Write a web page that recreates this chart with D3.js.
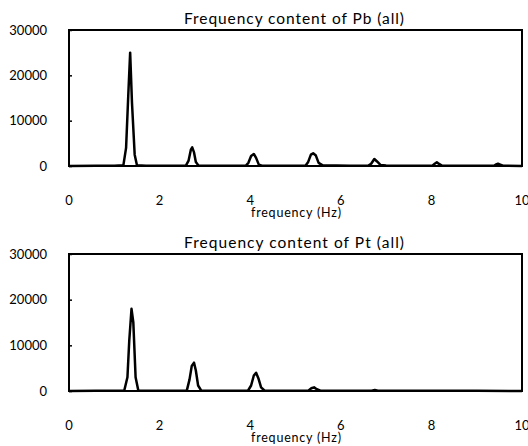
<html>
<head>
<meta charset="utf-8">
<script src="https://d3js.org/d3.v7.min.js"></script>
<style>
    body { margin: 0; background: #fff; }
    text { font-family: Lato, "Open Sans", sans-serif; fill: #000; }
</style>
</head>
<body>
<div id="chart"></div>
<script>
    // Frequency spectrum of Pb (top panel)
    var pbFreq = [0, 0.6, 1.0, 1.2, 1.26, 1.31, 1.35, 1.39, 1.45, 1.5, 1.7, 2.2, 2.58, 2.64, 2.69, 2.72, 2.76, 2.8, 2.86, 3.3, 3.9, 3.96, 4.02, 4.08, 4.13, 4.19, 4.26, 4.8, 5.22, 5.28, 5.34, 5.39, 5.45, 5.51, 5.6, 6.2, 6.6, 6.67, 6.74, 6.8, 6.88, 7.0, 7.6, 8.02, 8.08, 8.12, 8.17, 8.24, 8.8, 9.38, 9.43, 9.47, 9.52, 9.58, 10];
    var pbVal  = [0, 60, 80, 150, 4000, 16000, 25000, 14000, 2500, 150, 60, 40, 80, 1200, 3600, 4100, 3000, 900, 80, 60, 40, 700, 2200, 2650, 1800, 300, 60, 80, 60, 900, 2500, 2800, 2300, 700, 150, 60, 40, 500, 1550, 1000, 200, 120, 60, 80, 550, 800, 450, 60, 50, 60, 350, 500, 300, 60, 0];

    // Frequency spectrum of Pt (bottom panel)
    var ptFreq = [0, 0.6, 1.0, 1.22, 1.29, 1.33, 1.38, 1.42, 1.47, 1.53, 1.7, 2.2, 2.6, 2.66, 2.71, 2.76, 2.8, 2.85, 2.92, 3.4, 3.95, 4.02, 4.08, 4.13, 4.18, 4.24, 4.32, 4.9, 5.28, 5.35, 5.41, 5.47, 5.55, 6.2, 6.68, 6.75, 6.82, 7.4, 8.2, 9.0, 10];
    var ptVal  = [0, 40, 60, 120, 3000, 11000, 18000, 15000, 3000, 100, 60, 40, 80, 2500, 5500, 6200, 4500, 1200, 80, 50, 60, 1200, 3400, 4000, 2800, 800, 60, 40, 80, 600, 800, 400, 60, 40, 60, 200, 60, 40, 60, 40, 0];

    var titles = ["Frequency content of Pb (all)", "Frequency content of Pt (all)"];
    var xTicks = [0, 2, 4, 6, 8, 10];
    var yTicks = [0, 10000, 20000, 30000];
    var xLabel = "frequency (Hz)";

    var width = 528, height = 446;
    var svg = d3.select("#chart").append("svg")
        .attr("width", width)
        .attr("height", height);

    var xs = d3.scaleLinear().domain([0, 10]).range([69, 522]);

    var panels = [
        { freq: pbFreq, val: pbVal, title: titles[0], top: 30, bottom: 166 },
        { freq: ptFreq, val: ptVal, title: titles[1], top: 254, bottom: 391 }
    ];

    panels.forEach(function (p) {
        var ys = d3.scaleLinear().domain([0, 30000]).range([p.bottom, p.top]);
        var g = svg.append("g");

        // frame
        g.append("rect")
            .attr("x", xs(0))
            .attr("y", ys(30000))
            .attr("width", xs(10) - xs(0))
            .attr("height", ys(0) - ys(30000))
            .attr("fill", "none")
            .attr("stroke", "#000")
            .attr("stroke-width", 2);

        // y axis (inner ticks)
        var yAxis = g.append("g")
            .attr("transform", "translate(" + xs(0) + ",0)")
            .call(d3.axisRight(ys).tickValues(yTicks).tickSize(3).tickFormat(""));
        yAxis.select(".domain").remove();
        yAxis.selectAll("line").attr("stroke-width", 1.5);

        g.selectAll(".ylab")
            .data(yTicks)
            .enter().append("text")
            .attr("x", 47)
            .attr("y", function (d) { return ys(d); })
            .attr("dy", "0.35em")
            .attr("text-anchor", "end")
            .style("font-size", "13px")
            .text(function (d) { return d; });

        // x tick labels, no tick marks
        g.selectAll(".xlab")
            .data(xTicks)
            .enter().append("text")
            .attr("x", function (d) { return xs(d); })
            .attr("y", p.bottom + 34)
            .attr("dy", "0.35em")
            .attr("text-anchor", "middle")
            .style("font-size", "13px")
            .text(function (d) { return d; });

        g.append("text")
            .attr("x", 296)
            .attr("y", p.bottom + 51)
            .attr("text-anchor", "middle")
            .attr("textLength", 90)
            .attr("lengthAdjust", "spacing")
            .style("font-size", "12.5px")
            .text(xLabel);

        g.append("text")
            .attr("x", 294)
            .attr("y", p.top - 6)
            .attr("text-anchor", "middle")
            .attr("textLength", 220)
            .attr("lengthAdjust", "spacing")
            .style("font-size", "15.5px")
            .text(p.title);

        // spectrum line
        var line = d3.line()
            .x(function (d, i) { return xs(p.freq[i]); })
            .y(function (d) { return ys(d); });

        g.append("path")
            .datum(p.val)
            .attr("d", line)
            .attr("fill", "none")
            .attr("stroke", "#000")
            .attr("stroke-width", 2.5)
            .attr("stroke-linejoin", "round");
    });
</script>
</body>
</html>
